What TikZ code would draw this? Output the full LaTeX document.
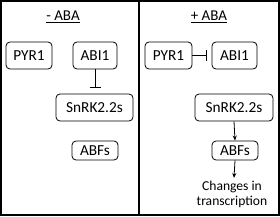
\documentclass[tikz,border=0pt]{standalone}
\usepackage{fontspec}
\setmainfont{Carlito}
\usetikzlibrary{arrows.meta,positioning}
\tikzset{
  prot/.style={rounded corners=4pt,draw=black,line width=0.8pt,align=center,
    inner sep=0pt,minimum height=27pt},
  arr/.style={-{Stealth[length=5pt,width=4pt]},line width=0.8pt},
  inh/.style={-{Bar[width=11pt,line width=1pt]},line width=1pt},
  cond/.style={font=\fontsize{15}{17}\selectfont},
}

\begin{document}
\begin{tikzpicture}[x=1pt,y=1pt,font=\fontsize{15.3}{17}\selectfont]
    \useasboundingbox (0,0) rectangle (280,-216);
    \draw[line width=2pt] (1,-1) rectangle (279,-215);
    \draw[line width=2pt] (138.5,-1) -- (138.5,-215);

    % without ABA
    \node[cond] (minus) at (63,-17) {\underline{- ABA}};
    \node[prot,minimum width=46pt] (pyrL) at (29,-55.5) {PYR1};
    \node[prot,minimum width=44pt] (abiL) at (95,-55.5) {ABI1};
    \node[prot,minimum width=77pt] (snrkL) at (94.5,-107.5) {SnRK2.2s};
    \node[prot,minimum width=46pt,minimum height=19pt] (abfL) at (95,-150.5) {ABFs};
    \coordinate (barL) at (95,-88);
    \draw[inh] (abiL.south) -- (barL);

    % with ABA
    \node[cond] (plus) at (209,-17) {\underline{+ ABA}};
    \node[prot,minimum width=47pt] (pyrR) at (168.5,-55.5) {PYR1};
    \node[prot,minimum width=45pt] (abiR) at (234.5,-55.5) {ABI1};
    \node[prot,minimum width=78pt] (snrkR) at (234,-107.5) {SnRK2.2s};
    \node[prot,minimum width=46pt,minimum height=19pt] (abfR) at (235,-150.5) {ABFs};
    \node[align=center,inner sep=0pt,font=\fontsize{13.6}{15}\selectfont] (trans) at (232,-194) {Changes in\\transcription};
    \coordinate (barR) at (207,-55.5);
    \coordinate (tipR) at (234,-178);
    \draw[inh] (pyrR.east) -- (barR);
    \draw[arr] (snrkR.south) -- (abfR.north);
    \draw[arr] (abfR.south) -- (tipR);
\end{tikzpicture}
\end{document}
